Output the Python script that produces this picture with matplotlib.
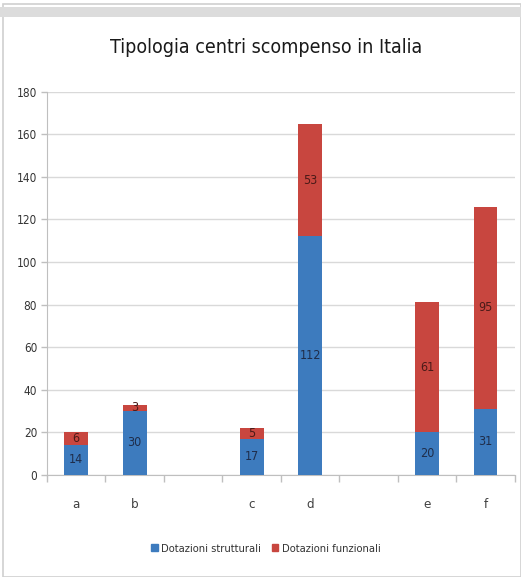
import matplotlib.pyplot as plt
from matplotlib.patches import Rectangle
import numpy as np

# chart data (empty strings are the blank slots between groups)
slots = ["a", "b", "", "c", "d", "", "e", "f"]
strutturali = [14, 30, 17, 112, 20, 31]
funzionali = [6, 3, 5, 53, 61, 95]

# narrow font, the original looks like Calibri
plt.rcParams["font.family"] = ["DejaVu Sans"]
plt.rcParams["font.stretch"] = "condensed"

fig = plt.figure(figsize=(5.21, 5.77), dpi=100)

# grey frame around the picture
fig.patches.append(Rectangle((0.006, 0.0), 0.994, 0.993, transform=fig.transFigure,
                             facecolor="none", edgecolor="#d0d0d0", lw=1.2))
fig.patches.append(Rectangle((0.0, 0.970), 1.0, 0.018, transform=fig.transFigure,
                             facecolor="#dcdcdc", edgecolor="none"))

ax = fig.add_axes([0.090, 0.177, 0.898, 0.664])

pos = np.array([i for i, s in enumerate(slots) if s])
blue = "#3d7bbe"
red = "#c8463f"
w = 0.41

ax.bar(pos, strutturali, width=w, color=blue, zorder=3)
ax.bar(pos, funzionali, width=w, bottom=strutturali, color=red, zorder=3)

# value labels in the middle of each segment
for x, s, f in zip(pos, strutturali, funzionali):
    ax.text(x, s / 2, str(s), ha="center", va="center", fontsize=9,
            color="#1f2d4a", zorder=4)
    ax.text(x, s + f / 2, str(f), ha="center", va="center", fontsize=9,
            color="#4a1a18", zorder=4)

ax.set_xlim(-0.5, len(slots) - 0.5)
ax.set_ylim(0, 180)
ax.set_yticks(np.arange(0, 181, 20))
ax.yaxis.grid(True, color="#d9d9d9", lw=1, zorder=0)

# category labels under bars, tick marks on the slot borders
ax.set_xticks(np.arange(-0.5, len(slots), 1))
ax.set_xticklabels([])
ax.tick_params(axis="x", length=5, color="#bfbfbf", width=1)
ax.tick_params(axis="y", length=4, color="#bfbfbf", width=1, labelsize=8.5,
               labelcolor="#333333", pad=3)
for i, s in enumerate(slots):
    if s:
        ax.text(i, -14, s, ha="center", va="center", fontsize=9.5, color="#404040")

for side in ["top", "right"]:
    ax.spines[side].set_visible(False)
ax.spines["left"].set_color("#bfbfbf")
ax.spines["bottom"].set_color("#bfbfbf")

fig.text(0.51, 0.917, "Tipologia centri scompenso in Italia", ha="center",
         va="center", fontsize=14, color="#1a1a1a")

# legend
leg = fig.legend(handles=[Rectangle((0, 0), 1, 1, color=blue),
                          Rectangle((0, 0), 1, 1, color=red)],
                 labels=["Dotazioni strutturali", "Dotazioni funzionali"],
                 loc="center", bbox_to_anchor=(0.51, 0.049), ncol=2,
                 frameon=False, fontsize=8, handlelength=0.6, handleheight=0.6,
                 handletextpad=0.3, columnspacing=1.0)
for t in leg.get_texts():
    t.set_color("#333333")

fig.savefig("out.png", dpi=100)
